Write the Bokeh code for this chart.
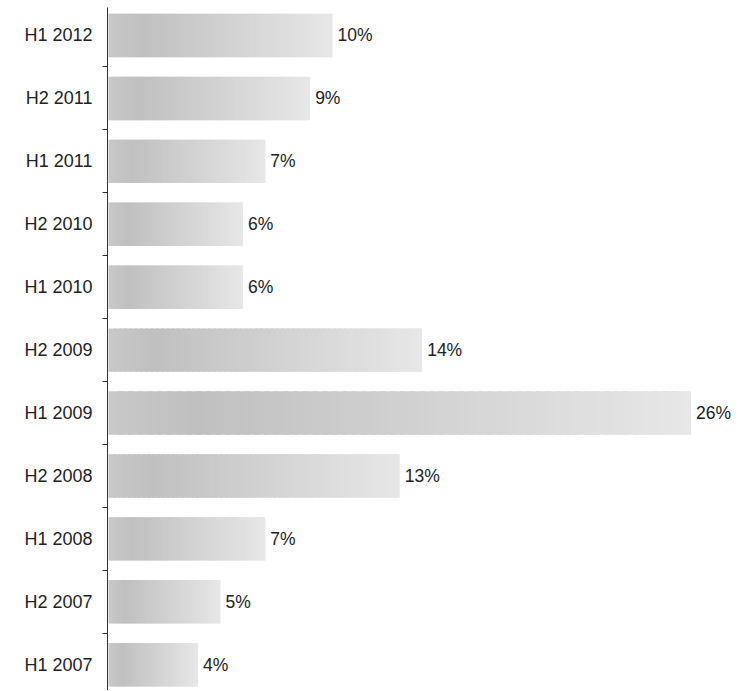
import numpy as np
from bokeh.plotting import figure
from bokeh.models import Range1d, FixedTicker, ColumnDataSource
from bokeh.core.properties import value
from bokeh.embed import file_html
from bokeh.resources import INLINE

# Data (top to bottom)
periods = ["H1 2012", "H2 2011", "H1 2011", "H2 2010", "H1 2010", "H2 2009",
           "H1 2009", "H2 2008", "H1 2008", "H2 2007", "H1 2007"]
shares = [10, 9, 7, 6, 6, 14, 26, 13, 7, 5, 4]
label_texts = [f"{v}%" for v in shares]

n = len(periods)
ypos = [n - 1 - i for i in range(n)]  # top category highest

# gradient stops (fraction along bar, grey level)
stops_t = [0.0, 0.15, 1.0]
stops_g = [200, 192, 231]
N = 60

lefts, rights, ys, colors = [], [], [], []
for v, y in zip(shares, ypos):
    for i in range(N):
        t0 = i / N
        t1 = min((i + 1.6) / N, 1.0)
        tm = (i + 0.5) / N
        g = int(round(np.interp(tm, stops_t, stops_g)))
        lefts.append(v * t0)
        rights.append(v * t1)
        ys.append(y)
        colors.append(f"#{g:02x}{g:02x}{g:02x}")

seg = ColumnDataSource(dict(left=lefts, right=rights, y=ys, color=colors))
lab = ColumnDataSource(dict(x=shares, y=ypos, text=label_texts))

p = figure(width=742, height=690, output_backend="svg", toolbar_location=None,
           x_range=Range1d(-0.045, 28.30), y_range=Range1d(-0.41, 10.445),
           min_border_left=107, min_border_right=0, min_border_top=7,
           min_border_bottom=0)

p.hbar(y="y", left="left", right="right", height=0.69, color="color",
       line_color=None, source=seg)
p.text(x="x", y="y", text="text", source=lab, x_offset=5,
       text_baseline="middle", text_align="left",
       text_font=value("Liberation Sans"), text_font_size="17.5px",
       text_color="#222222")

p.xaxis.visible = False
p.xgrid.visible = False
p.ygrid.visible = False
p.outline_line_color = None

ax = p.yaxis[0]
ax.ticker = FixedTicker(ticks=ypos, minor_ticks=[k + 0.5 for k in range(-1, n)])
ax.major_label_overrides = {y: lbl for y, lbl in zip(ypos, periods)}
ax.major_tick_out = 0
ax.major_tick_in = 0
ax.minor_tick_out = 5
ax.minor_tick_in = 0
ax.minor_tick_line_color = "#333333"
ax.axis_line_color = "#333333"
ax.major_label_standoff = 10
ax.major_label_text_font = "Liberation Sans"
ax.major_label_text_font_size = "18px"
ax.major_label_text_color = "#222222"

open("out.html", "w").write(file_html(p, INLINE))
